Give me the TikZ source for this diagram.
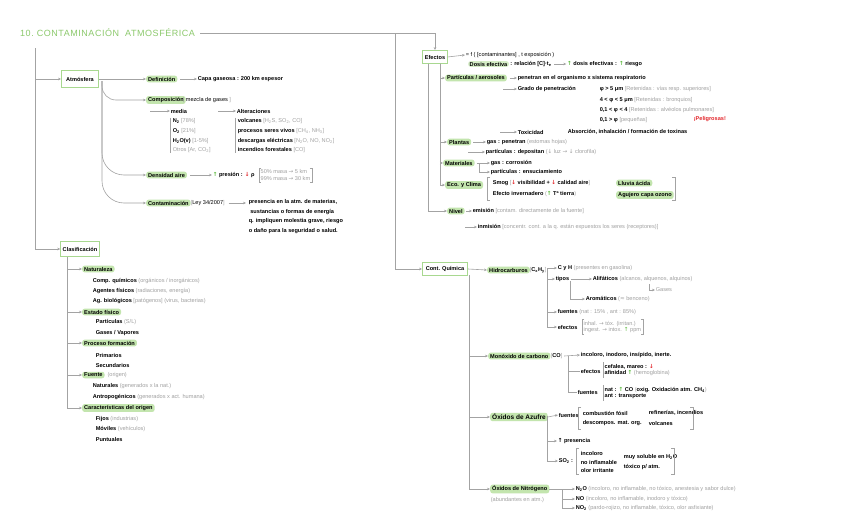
\documentclass[tikz,border=0pt]{standalone}
\usepackage{fontspec}
\setmainfont{Liberation Sans}
\newfontfamily\titlefont[LetterSpace=6]{Liberation Sans}
\newfontfamily\symf{DejaVu Sans}
\usetikzlibrary{arrows.meta}
\definecolor{hlgreen}{HTML}{C3E5AE}
\definecolor{boxgreen}{HTML}{A8D890}
\definecolor{titlegreen}{HTML}{8CC96C}
\definecolor{linegray}{HTML}{A3A3A3}
\definecolor{notegray}{HTML}{A0A0A0}
\definecolor{dnred}{HTML}{E3262B}
\definecolor{upgreen}{HTML}{5DBB3F}
\newcommand\fsz{\fontsize{5.6}{6.6}\selectfont}
\newcommand\gn[1]{\textcolor{notegray}{\mdseries #1}}
\newcommand\rar{{\symf →}}
\newcommand\uar{{\symf ↑}}
\newcommand\dar{{\symf ↓}}
\newcommand\approxs{{\symf ≈}}
\newcommand\upa{\textcolor{upgreen}{\uar}}
\newcommand\dna{\textcolor{dnred}{\dar}}
\newcommand\sbs[1]{\textsubscript{#1}}
\newcommand\bothbr[1]{%
  \draw[brk] ([xshift=2pt]#1.north west) -- (#1.north west) -- (#1.south west) -- ([xshift=2pt]#1.south west);
  \draw[brk] ([xshift=-2pt]#1.north east) -- (#1.north east) -- (#1.south east) -- ([xshift=-2pt]#1.south east);}
\begin{document}
\begin{tikzpicture}[x=1pt,y=-1pt,
  txt/.style={anchor=west, inner sep=0.6pt, font=\fsz\bfseries, text=black},
  note/.style={anchor=west, inner sep=0.6pt, font=\fsz, text=notegray},
  hl/.style={anchor=west, fill=hlgreen, rounded corners=2.5pt, inner xsep=2pt, inner ysep=1.3pt, font=\fsz\bfseries},
  gbox/.style={draw=boxgreen, line width=0.9pt, fill=white, inner sep=2pt, minimum height=13pt, font=\fsz\bfseries},
  conn/.style={draw=linegray, line width=0.6pt},
  arr/.style={conn, -{Stealth[length=3pt,width=2.6pt]}},
  brk/.style={draw=linegray, line width=0.5pt},
]
\useasboundingbox (0,0) rectangle (848,530);
\fill[white] (0,0) rectangle (848,530);

% ---------- title and main trunks ----------
\node[anchor=west, inner sep=0pt, text=titlegreen, font=\titlefont\fontsize{9}{10}\selectfont] (title) at (20,33) {10.\ CONTAMINACIÓN\ \ ATMOSFÉRICA};
\node[gbox, minimum width=24pt] (efe) at (435,57) {Efectos};
\node[gbox, minimum width=45pt] (cq) at (445,269) {Cont. Química};
\draw[arr] ([xshift=5pt]title.east) -| (efe.north);
\coordinate (vq) at (395,33);
\draw[arr] (vq) |- (cq.west);

\node[gbox, minimum width=37pt, minimum height=17pt] (atm) at (80,79) {Atmósfera};
\node[gbox, minimum width=35pt, minimum height=15pt] (clas) at (80,249) {Clasificación};
\coordinate (lt) at (35,48);
\coordinate (la) at (35,79);
\draw[arr] (lt) |- (clas.west);
\draw[arr] (la) -- (atm.west);

% ---------- Atmosfera ----------
\node[hl] (def) at (146,79) {Definición};
\node[txt] (defx) at (197,79) {Capa gaseosa : 200 km espesor};
\draw[arr] (atm.east) -- (def.west);
\draw[arr] ([xshift=3pt]def.east) -- (defx.west);

\coordinate (ab) at (102,81);
\node[hl] (comp) at (146,100) {Composición};
\node[txt, font=\fsz] (compn) at (182,100) {\gn{[} mezcla de gases \gn{]}};
\node[hl] (dens) at (146,175) {Densidad aire};
\node[hl] (cont) at (146,203) {Contaminación};
\draw[arr, rounded corners=14pt] (ab) |- (comp.west);
\draw[arr, rounded corners=22pt] (ab) |- (dens.west);
\draw[arr, rounded corners=22pt] (ab) |- (cont.west);

\coordinate (cm1) at (150,111);
\node[txt] (media) at (170,111) {media};
\draw[arr] (cm1) -- (media.west);
\coordinate (cm2) at (218,111);
\node[txt] (alt) at (236,111) {Alteraciones};
\draw[arr] (cm2) -- (alt.west);
\node[txt] (n2) at (172,121) {N\sbs{2} \gn{[78\%]}};
\node[txt] (o2) at (172,131) {O\sbs{2} \gn{[21\%]}};
\node[txt] (h2o) at (172,141) {H\sbs{2}O(v) \gn{[1-5\%]}};
\node[note] (otros) at (172,150) {Otros [Ar, CO\sbs{2}]};
\draw[brk] ([xshift=-2pt]n2.north west) -- ([xshift=-2pt]otros.south west);
\node[txt] (volc) at (237,121) {volcanes \gn{[H\sbs{2}S, SO\sbs{2}, CO]}};
\node[txt] (procv) at (237,131) {procesos seres vivos \gn{[CH\sbs{4}, NH\sbs{3}]}};
\node[txt] (desc) at (237,141) {descargas eléctricas \gn{[N\sbs{2}O, NO, NO\sbs{2}]}};
\node[txt] (incf) at (237,150) {incendios forestales \gn{[CO]}};
\draw[brk] ([xshift=-2pt]volc.north west) -- ([xshift=-2pt]incf.south west);

\node[txt] (pres) at (212,175) {\upa\ presión : \dna\ ρ};
\draw[arr] ([xshift=3pt]dens.east) -- (pres.west);
\node[note, align=left, inner sep=1.5pt] (dmass) at (259,175) {50\% masa \rar\ 5 km\\99\% masa \rar\ 30 km};
\bothbr{dmass}

\node[txt, font=\fsz] (ley) at (190,203) {\gn{[}Ley 34/2007\gn{]}};
\coordinate (cx) at (246,203);
\draw[arr] ([xshift=3pt]ley.east) -- (cx);
\node[txt, align=left, anchor=north west, font=\fontsize{5.6}{9.7}\selectfont\bfseries] (contx) at (248,198.5) {presencia en la atm. de materias,\\ \ sustancias o formas de energía\\ q. impliquen molestia grave, riesgo\\ o daño para la seguridad o salud.};

% ---------- Clasificacion ----------
\coordinate (ct) at (67,257);
\node[hl] (nat) at (82,269) {Naturaleza};
\node[txt] (nat1) at (92,281) {Comp. químicos \gn{(orgánicos / inorgánicos)}};
\node[txt] (nat2) at (92,291) {Agentes físicos \gn{(radiaciones, energía)}};
\node[txt] (nat3) at (92,301) {Ag. biológicos \gn{[patógenos] (virus, bacterias)}};
\node[hl] (est) at (82,312) {Estado físico};
\node[txt] (est1) at (95,322) {Partículas \gn{(S/L)}};
\node[txt] (est2) at (95,333) {Gases / Vapores};
\node[hl] (pfo) at (82,343) {Proceso formación};
\node[txt] (pf1) at (95,355) {Primarios};
\node[txt] (pf2) at (95,365) {Secundarios};
\node[hl] (fue) at (82,375) {Fuente};
\node[note] (fueo) at ([xshift=2pt]fue.east) {(origen)};
\node[txt] (f1) at (92,386) {Naturales \gn{(generados x la nat.)}};
\node[txt] (f2) at (92,397) {Antropogénicos \gn{(generados x act. humana)}};
\node[hl] (car) at (82,408) {Características del origen};
\node[txt] (c1) at (95,419) {Fijos \gn{(industrias)}};
\node[txt] (c2) at (95,429) {Móviles \gn{(vehículos)}};
\node[txt] (c3) at (95,439) {Puntuales};
\foreach \n in {nat,est,pfo,fue,car} \draw[arr] (ct) |- (\n.west);

% ---------- Efectos ----------
\node[txt, font=\fsz] (form) at (465,55) {= f ( [contaminantes] , t exposición )};
\draw[arr] (efe.east) -- (form.west);
\node[hl, fill=hlgreen!70, inner ysep=0.8pt, inner xsep=1.5pt] (dosis) at (468,64) {Dosis efectiva};
\node[txt] (rel) at ([xshift=0.5pt]dosis.east) {: relación [C]·t\sbs{e}};
\node[txt] (riesgo) at ([xshift=14pt]rel.east) {\upa\ dosis efectivas : \upa\ riesgo};
\draw[arr] ([xshift=2pt]rel.east) -- (riesgo.west);

\coordinate (et1) at (440,63.5);
\coordinate (et2) at (428,63.5);
\node[hl] (part) at (445,78) {Partículas / aerosoles};
\node[hl] (plan) at (447,142) {Plantas};
\node[hl] (mat) at (443,163) {Materiales};
\node[hl] (eco) at (445,185) {Eco. y Clima};
\node[hl] (niv) at (447,211) {Nivel};
\foreach \n in {part,plan,mat,eco} \draw[arr] (et1) |- (\n.west);
\draw[arr] (et2) |- (niv.west);

\node[txt] (pen) at (517,78) {penetran en el organismo x sistema respiratorio};
\draw[arr] ([xshift=3pt]part.east) -- (pen.west);
\coordinate (gp0) at (503,89);
\node[txt] (grado) at (517,89) {Grado de penetración};
\draw[arr] (gp0) -- (grado.west);
\node[txt] (p1) at (599,89) {φ > 5 μm \gn{[Retenidas : vías resp. superiores]}};
\node[txt] (p2) at (599,100) {4 < φ < 5 μm \gn{[Retenidas : bronquios]}};
\node[txt] (p3) at (599,110) {0,1 < φ < 4 \gn{[Retenidas : alvéolos pulmonares]}};
\node[txt] (p4) at (599,120) {0,1 > φ \gn{[pequeñas]}};
\node[txt, text=dnred] (pel) at (693,119) {¡Peligrosas!};
\coordinate (tx0) at (500,132);
\node[txt] (tox) at (517,132) {Toxicidad};
\node[txt] (toxx) at (567,132) {Absorción, inhalación / formación de toxinas};
\draw[arr] (tx0) -- (tox.west);

\node[txt] (pg) at (486,142) {gas : penetran \gn{(estomas hojas)}};
\draw[arr] ([xshift=2pt]plan.east) -- (pg.west);
\coordinate (pp0) at (468,152);
\node[txt] (pp) at (485,152) {partículas : depositan \gn{(\dar\ luz \rar\ \dar\ clorofila)}};
\draw[arr] (pp0) -- (pp.west);

\node[txt] (mg) at (490,163) {gas : corrosión};
\draw[arr] ([xshift=2pt]mat.east) -- (mg.west);
\coordinate (mp0) at (479,163);
\node[txt] (mp) at (490,172) {partículas : ensuciamiento};
\draw[arr] (mp0) |- (mp.west);

\node[txt] (smog) at (492,183) {Smog \gn{[}\dna\ visibilidad + \dna\ calidad aire\gn{]}};
\node[txt] (inv) at (492,194) {Efecto invernadero \gn{(}\upa\ Tª tierra\gn{)}};
\node[hl] (lluv) at (616,183) {Lluvia ácida};
\node[hl] (aguj) at (616,195) {Agujero capa ozono};
\draw[brk] (490,177) -- (487,177) -- (487,200) -- (490,200);
\draw[brk] (672,177) -- (675,177) -- (675,200) -- (672,200);

\node[txt] (emi) at (472,211) {emisión \gn{[contam. directamente de la fuente]}};
\draw[arr] ([xshift=1pt]niv.east) -- (emi.west);
\coordinate (im0) at (465,227);
\node[txt] (inm) at (477,227) {inmisión \gn{[concentr. cont. a la q. están expuestos los seres (receptores)]}};
\draw[arr] (im0) -- (inm.west);

% ---------- Cont. Quimica ----------
\coordinate (qt) at (469,275);
\node[hl] (hc) at (487,270) {Hidrocarburos};
\draw[arr] (cq.east) -- (hc.west);
\node[txt] (hcf) at (529,270) {\gn{[}C\sbs{x}H\sbs{y}\gn{]}};
\coordinate (ht) at (547,268);
\node[txt] (ch) at (557,268) {C y H \gn{(presentes en gasolina)}};
\draw[arr] (ht) -- (ch.west);
\node[txt] (tip) at (555,279) {tipos};
\draw[arr] (ht) |- (tip.west);
\node[txt] (alif) at (592,279) {Alifáticos \gn{(alcanos, alquenos, alquinos)}};
\draw[arr] ([xshift=1pt]tip.east) -- (alif.west);
\coordinate (gz0) at (649,284);
\node[note] (gas) at (655,290) {Gases};
\draw[arr] (gz0) |- (gas.west);
\coordinate (ar0) at (570,281);
\node[txt] (arom) at (585,299) {Aromáticos \gn{(\approxs\ benceno)}};
\draw[arr] (ar0) |- (arom.west);
\node[txt] (hfu) at (557,312) {fuentes \gn{(nat : 15\% , ant : 85\%)}};
\draw[arr] (ht) |- (hfu.west);
\node[txt] (hef) at (557,327) {efectos};
\draw[arr] (ht) |- (hef.west);
\node[note, align=left, inner sep=1.5pt] (hefx) at (582,327) {inhal. \rar\ tóx. (irritan.)\\ingest. \rar\ intox. \textcolor{upgreen}{\uar} ppm};
\bothbr{hefx}

\node[hl] (co) at (488,356) {Monóxido de carbono};
\draw[arr] (qt) |- (co.west);
\node[txt] (cof) at (550,356) {\gn{[}CO\gn{]}};
\node[txt] (cox) at (580,355) {incoloro, inodoro, insípido, inerte.};
\draw[arr] ([xshift=1pt]cof.east) -- (cox.west);
\coordinate (cot) at (568,356);
\node[txt] (coe) at (580,371) {efectos};
\draw[conn] (cot) |- (coe.west);
\node[txt, align=left, inner sep=1.5pt] (coex) at (603,370) {cefalea, mareo : \dna\\afinidad \upa\ \gn{(hemoglobina)}};
\draw[brk] (coex.north west) -- (coex.south west);
\node[txt] (cofu) at (577,392) {fuentes};
\draw[conn] (cot) |- (cofu.west);
\node[txt, align=left, inner sep=1.5pt] (cofux) at (603,393) {nat : \upa\ CO \gn{(}oxig. Oxidación atm. CH\sbs{4}\gn{)}\\ant : transporte};
\draw[brk] (cofux.north west) -- (cofux.south west);

\node[hl, font=\fontsize{6.5}{7.5}\selectfont\bfseries] (so) at (490,417) {Óxidos de Azufre};
\draw[arr] (qt) |- (so.west);
\node[txt] (sof) at (558,415) {fuentes};
\draw[arr] (so.east) -- (sof.west);
\coordinate (sot) at (547,416);
\node[txt] (sf1) at (582,413) {combustión fósil};
\node[txt] (sf2) at (582,423) {descompos. mat. org.};
\node[txt] (sf3) at (648,413) {refinerías, incendios};
\node[txt] (sf4) at (648,423) {volcanes};
\draw[brk] (581,407) -- (578,407) -- (578,429) -- (581,429);
\draw[brk] (690,407) -- (693,407) -- (693,429) -- (690,429);
\node[txt] (sop) at (557,441) {\uar\ presencia};
\draw[arr] (sot) |- (sop.west);
\node[txt] (so2) at (558,461) {SO\sbs{2} :};
\draw[arr] (sot) |- (so2.west);
\node[txt] (s1) at (580,453) {incoloro};
\node[txt] (s2) at (580,462) {no inflamable};
\node[txt] (s3) at (580,470) {olor irritante};
\node[txt] (s4) at (623,457) {muy soluble en H\sbs{2}O};
\node[txt] (s5) at (623,467) {tóxico p/ atm.};
\draw[brk] (579,448) -- (576,448) -- (576,474) -- (579,474);
\draw[brk] (671,448) -- (674,448) -- (674,474) -- (671,474);

\node[hl] (nox) at (490,489) {Óxidos de Nitrógeno};
\draw[arr] (qt) |- (nox.west);
\node[note] (noxa) at (490,500) {(abundantes en atm.)};
\coordinate (nt) at (562,489);
\draw[conn] (nox.east) -- (nt);
\node[txt] (n2o) at (575,489) {N\sbs{2}O \gn{(incoloro, no inflamable, no tóxico, anestesia y sabor dulce)}};
\node[txt] (no) at (575,499) {NO \gn{(incoloro, no inflamable, inodoro y tóxico)}};
\node[txt] (no2) at (575,508) {NO\sbs{2} \gn{(pardo-rojizo, no inflamable, tóxico, olor asfixiante)}};
\draw[arr] (nt) -- (n2o.west);
\draw[arr] (nt) |- (no.west);
\draw[arr] (nt) |- (no2.west);
\end{tikzpicture}
\end{document}
